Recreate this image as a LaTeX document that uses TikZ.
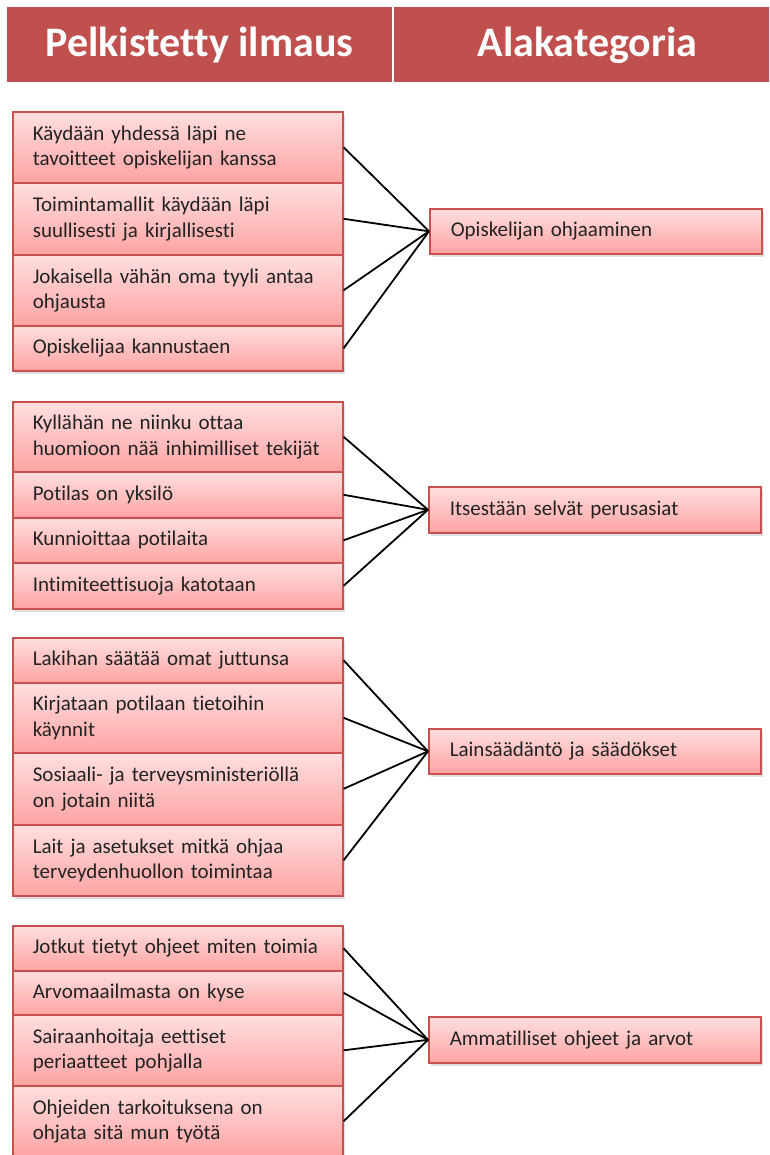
\documentclass[tikz,border=0pt]{standalone}
\usepackage{fontspec}
\setmainfont[Ligatures=NoCommon]{Carlito}
\usetikzlibrary{shadows}
\definecolor{hdrred}{HTML}{C0504D}
\definecolor{boxred}{HTML}{C9504E}
\definecolor{pinktop}{HTML}{FFDFDF}
\definecolor{pinkbot}{HTML}{FFA3A3}
\definecolor{txt}{HTML}{222222}
\newcommand{\boxfont}{\fontsize{21}{25.5}\selectfont}
\newcommand{\hdrfont}{\fontsize{42}{46}\selectfont\bfseries}
\tikzset{
  hdr/.style={fill=hdrred, draw=none},
  hdrtext/.style={text=white, font=\hdrfont, anchor=base, inner sep=0pt},
  leaf/.style={draw=boxred, line width=1.6pt, top color=pinktop, bottom color=pinkbot,
    align=left, text width=290pt, inner xsep=20pt, inner ysep=0pt, anchor=north west,
    font=\boxfont, text=txt,
    drop shadow={opacity=0.25, shadow xshift=2pt, shadow yshift=-3pt}},
  catbox/.style={leaf, text width=290pt, inner xsep=21pt},
  link/.style={draw=black, line width=1.8pt}
}
\begin{document}
\begin{tikzpicture}[x=1pt,y=-1pt]
\useasboundingbox (0,0) rectangle (769,1155);
\clip (0,0) rectangle (769,1155);
% header
\path[hdr] (7,7) rectangle (392,82);
\path[hdr] (394,7) rectangle (780,82);
\node[hdrtext] (h1) at (199.5,57) {Pelkistetty ilmaus};
\node[hdrtext] (h2) at (587.5,57) {Alakategoria};
% group 1
\node[leaf, minimum height=71pt] (a1) at (12,111) {Käydään yhdessä läpi ne\\tavoitteet opiskelijan kanssa};
\node[leaf, minimum height=72pt] (a2) at (12,182) {Toimintamallit käydään läpi\\suullisesti ja kirjallisesti};
\node[leaf, minimum height=71pt] (a3) at (12,254) {Jokaisella vähän oma tyyli antaa\\ohjausta};
\node[leaf, minimum height=45pt] (a4) at (12,325) {Opiskelijaa kannustaen};
\node[catbox, minimum height=45pt] (c1) at (429,208) {Opiskelijan ohjaaminen};
% group 2
\node[leaf, minimum height=70pt] (b1) at (12,401) {Kyllähän ne niinku ottaa\\huomioon nää inhimilliset tekijät};
\node[leaf, minimum height=46pt] (b2) at (12,471) {Potilas on yksilö};
\node[leaf, minimum height=45pt] (b3) at (12,517) {Kunnioittaa potilaita};
\node[leaf, minimum height=46pt] (b4) at (12,562) {Intimiteettisuoja katotaan};
\node[catbox, minimum height=46pt] (c2) at (428,486) {Itsestään selvät perusasiat};
% group 3
\node[leaf, minimum height=45pt] (d1) at (12,637) {Lakihan säätää omat juttunsa};
\node[leaf, minimum height=70pt] (d2) at (12,682) {Kirjataan potilaan tietoihin\\käynnit};
\node[leaf, minimum height=72pt] (d3) at (12,752) {Sosiaali- ja terveysministeriöllä\\on jotain niitä};
\node[leaf, minimum height=71pt] (d4) at (12,824) {Lait ja asetukset mitkä ohjaa\\terveydenhuollon toimintaa};
\node[catbox, minimum height=45pt] (c3) at (428,728) {Lainsäädäntö ja säädökset};
% group 4
\node[leaf, minimum height=45pt] (e1) at (12,925) {Jotkut tietyt ohjeet miten toimia};
\node[leaf, minimum height=44pt] (e2) at (12,970) {Arvomaailmasta on kyse};
\node[leaf, minimum height=71pt] (e3) at (12,1014) {Sairaanhoitaja eettiset\\periaatteet pohjalla};
\node[leaf, minimum height=71pt] (e4) at (12,1085) {Ohjeiden tarkoituksena on\\ohjata sitä mun työtä};
\node[catbox, minimum height=46pt] (c4) at (428,1016) {Ammatilliset ohjeet ja arvot};
% connectors
\foreach \s in {a1,a2,a3,a4} \draw[link] (\s.east) -- (c1.west);
\foreach \s in {b1,b2,b3,b4} \draw[link] (\s.east) -- (c2.west);
\foreach \s in {d1,d2,d3,d4} \draw[link] (\s.east) -- (c3.west);
\foreach \s in {e1,e2,e3,e4} \draw[link] (\s.east) -- (c4.west);
\end{tikzpicture}
\end{document}
